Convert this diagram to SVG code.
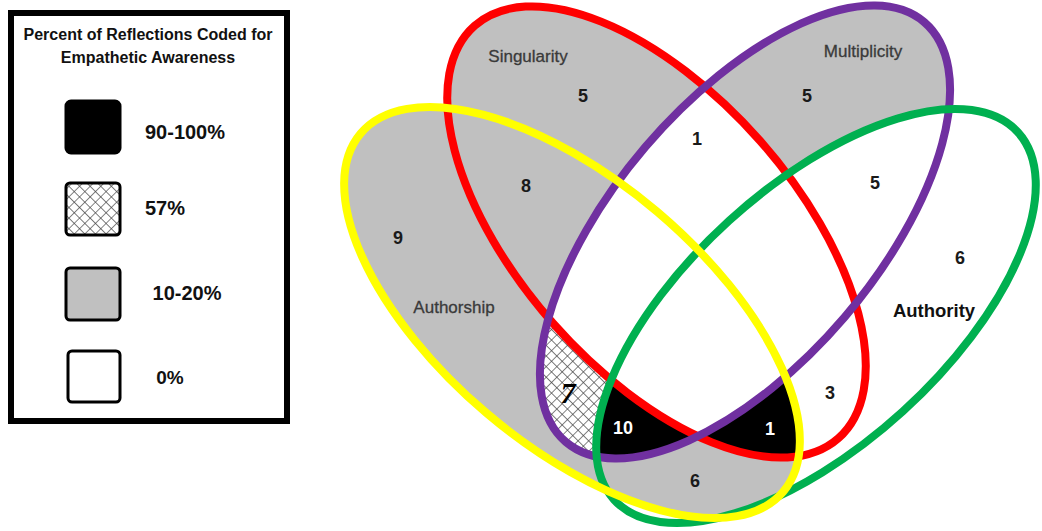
<svg xmlns="http://www.w3.org/2000/svg" xmlns:xlink="http://www.w3.org/1999/xlink" width="1042" height="531" viewBox="0 0 1042 531">
<style>
.num{font-family:"Liberation Sans",Arial,sans-serif;font-weight:bold;font-size:18px;fill:#1a1a1a;text-anchor:middle}
.wnum{fill:#fff}
.lab{font-family:"Liberation Sans",Arial,sans-serif;font-size:17px;fill:#3a3a3a;stroke:#3a3a3a;stroke-width:0.3;text-anchor:middle}
.leg{font-family:"Liberation Sans",Arial,sans-serif;font-weight:bold;fill:#111;text-anchor:middle}
.ol{fill:none;stroke-width:8}
</style>
<defs>
<ellipse id="eS" cx="0" cy="0" rx="275" ry="138" transform="translate(656.5,232) rotate(48.6)"/>
<ellipse id="eM" cx="0" cy="0" rx="276" ry="131" transform="translate(745,232) rotate(-49.5)"/>
<ellipse id="eA" cx="0" cy="0" rx="277" ry="132" transform="translate(572,312.5) rotate(40.3)"/>
<ellipse id="eT" cx="0" cy="0" rx="273" ry="129" transform="translate(816,316) rotate(-42.3)"/>
<clipPath id="cS"><use href="#eS"/></clipPath>
<clipPath id="cM"><use href="#eM"/></clipPath>
<clipPath id="cA"><use href="#eA"/></clipPath>
<clipPath id="cT"><use href="#eT"/></clipPath>
<pattern id="hatch" patternUnits="userSpaceOnUse" width="7.5" height="7.5" patternTransform="rotate(45)">
<rect width="7.5" height="7.5" fill="#fff"/>
<path d="M0,0 H7.5 M0,0 V7.5" stroke="#444" stroke-width="1.3"/>
</pattern>
</defs>
<rect width="1042" height="531" fill="#fff"/>

<g id="legend">
<rect x="11" y="13" width="276" height="408" fill="#fff" stroke="#000" stroke-width="6"/>
<text class="leg" x="148" y="40" font-size="16">Percent of Reflections Coded for</text>
<text class="leg" x="148" y="63" font-size="16">Empathetic Awareness</text>
<rect x="66" y="101" width="54" height="52" rx="5" fill="#000" stroke="#000" stroke-width="3"/>
<rect x="66" y="183" width="54" height="52" rx="4" fill="url(#hatch)" stroke="#000" stroke-width="3"/>
<rect x="66" y="268" width="54" height="52" rx="4" fill="#c0c0c0" stroke="#000" stroke-width="3"/>
<rect x="68" y="351" width="52" height="51" rx="4" fill="#fff" stroke="#000" stroke-width="3"/>
<text class="leg" x="185" y="139" font-size="20">90-100%</text>
<text class="leg" x="165" y="215" font-size="20">57%</text>
<text class="leg" x="187" y="300" font-size="20">10-20%</text>
<text class="leg" x="170" y="384" font-size="19">0%</text>
</g>

<g id="region-fills">
<use href="#eT" fill="#fff"/>
<use href="#eS" fill="#c0c0c0"/>
<use href="#eM" fill="#c0c0c0"/>
<use href="#eA" fill="#c0c0c0"/>
<g clip-path="url(#cA)"><g clip-path="url(#cM)"><rect x="0" y="0" width="1042" height="531" fill="url(#hatch)"/></g></g>
<g clip-path="url(#cS)"><use href="#eM" fill="#fff"/></g>
<g clip-path="url(#cT)"><use href="#eM" fill="#fff"/><use href="#eS" fill="#fff"/></g>
<g clip-path="url(#cA)"><g clip-path="url(#cT)">
<use href="#eM" fill="#000"/><use href="#eS" fill="#000"/>
<g clip-path="url(#cS)"><use href="#eM" fill="#fff"/></g>
</g></g>
</g>

<g id="set-singularity">
<use href="#eS" class="ol" stroke="#ff0000"/>
<text class="lab" x="528" y="62" font-size="16.5">Singularity</text>
</g>
<g id="set-multiplicity">
<use href="#eM" class="ol" stroke="#7030a0"/>
<text class="lab" x="863" y="57">Multiplicity</text>
</g>
<g id="set-authority">
<use href="#eT" class="ol" stroke="#00b050"/>
<text x="934" y="317" font-family="'Liberation Sans',Arial,sans-serif" font-size="18.5" font-weight="bold" fill="#111" text-anchor="middle">Authority</text>
</g>
<g id="set-authorship">
<use href="#eA" class="ol" stroke="#ffff00"/>
<text class="lab" x="454" y="313" font-size="17.5">Authorship</text>
</g>

<g id="counts">
<text class="num" x="583" y="101.5">5</text>
<text class="num" x="526" y="191.5">8</text>
<text class="num" x="398" y="243.5">9</text>
<text class="num" x="697" y="144.5">1</text>
<text class="num" x="807" y="101.5">5</text>
<text class="num" x="875" y="188.5">5</text>
<text class="num" x="960" y="263.5">6</text>
<text class="num" x="830" y="398.5">3</text>
<text class="num wnum" x="770" y="434.5">1</text>
<text class="num" x="695" y="486.5">6</text>
<text class="num wnum" x="623" y="433.5">10</text>
<text x="568" y="403" font-family="'Liberation Serif','Times New Roman',serif" font-size="30" font-style="italic" font-weight="bold" fill="#000" text-anchor="middle">7</text>
</g>
</svg>
